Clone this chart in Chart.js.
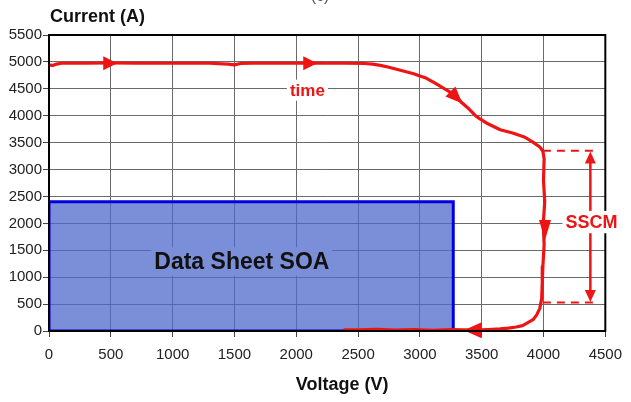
<!DOCTYPE html>
<html><head><meta charset="utf-8">
<script src="https://cdn.jsdelivr.net/npm/chart.js@4.4.0/dist/chart.umd.min.js"></script>
<style>html,body{margin:0;padding:0;background:#fff;}#wrap{width:631px;height:402px;position:relative;}</style>
</head><body><div id="wrap"><canvas id="c" width="631" height="402"></canvas></div>
<script>
// ---- data ----
const xTitle = 'Voltage (V)';
const yTitle = 'Current (A)';
const xMin = 0, xMax = 4500, xStep = 500;
const yMin = 0, yMax = 5500, yStep = 500;

// measured switching trajectory (V, A)
const curveV = [0,30,60,100,200,300,500,700,900,1100,1300,1450,1500,1550,1650,1800,2000,2200,2400,2550,2620,2680,2750,2850,2950,3000,3050,3120,3200,3280,3340,3400,3450,3480,3550,3650,3750,3850,3920,3970,3995,4005,4000,4010,3998,4005,3995,3990,3985,3970,3945,3915,3870,3830,3780,3715,3650,3550,3450,3350,3250,3100,2950,2800,2650,2500,2390];
const curveI = [4940,4935,4960,4975,4975,4975,4980,4975,4975,4975,4975,4960,4945,4970,4975,4975,4975,4975,4975,4970,4960,4935,4900,4840,4780,4740,4700,4610,4500,4390,4240,4120,4000,3950,3850,3740,3680,3600,3500,3420,3340,3200,2800,2400,2000,1600,1200,900,600,420,300,210,150,100,75,55,40,25,15,20,25,10,25,15,30,20,20];

// data sheet SOA rectangle (left edge, top edge, right edge; bottom closed separately)
const soaV = [0,0,3270,3270];
const soaI = [0,2400,2400,0];

// SSCM bracket
const sscmDashV = [3995,4435];
const sscmTopI = 3350;
const sscmBotI = 530;
const sscmArrowV = 4379;

// direction arrows on the curve (tip position, pixel direction in degrees)
const arrowV   = [552, 2170, 3344, 4012, 3355, 4379, 4379];
const arrowI   = [4975, 4975, 4228, 1690, 15, 3335, 540];
const arrowDeg = [0, 0, 45, 90, 180, -90, 90];
const arrowLen = [14, 14, 17, 20, 18, 12, 12];
const arrowHalf= [7, 7, 7, 6, 8, 5.5, 5.5];

// text labels in data coords
const noteText = ['time', 'Data Sheet SOA', 'SSCM'];
const noteV = [2090, 1560, 4388];
const noteI = [4475, 1290, 2024];

const RED = '#EE1414';
const BLUE = '#0000DD';
const FONT = '"Liberation Sans", Arial, Helvetica, sans-serif';
Chart.defaults.font.family = FONT;

const pts = (xs, ys) => xs.map((v, k) => ({x: v, y: ys[k]}));

const annot = {
  id: 'annot',
  afterDatasetsDraw(chart) {
    const {ctx, chartArea: a, scales: {x, y}} = chart;
    ctx.save();
    // arrows
    ctx.fillStyle = RED;
    for (let k = 0; k < arrowV.length; k++) {
      const px = x.getPixelForValue(arrowV[k]);
      const py = y.getPixelForValue(arrowI[k]);
      const ang = arrowDeg[k] * Math.PI / 180;
      const c = Math.cos(ang), s = Math.sin(ang);
      const bx = px - arrowLen[k] * c, by = py - arrowLen[k] * s;
      const h = arrowHalf[k];
      ctx.beginPath();
      ctx.moveTo(px, py);
      ctx.lineTo(bx - h * s, by + h * c);
      ctx.lineTo(bx + h * s, by - h * c);
      ctx.closePath();
      ctx.fill();
    }
    // frame
    ctx.strokeStyle = '#000';
    ctx.lineWidth = 2;
    ctx.strokeRect(a.left, a.top, a.right - a.left, a.bottom - a.top);

    // notes
    const styles = [
      {font: 'bold 17px ' + FONT, color: RED, bg: '#fff'},
      {font: 'bold 23px ' + FONT, color: '#111', bg: '#7B8ED8'},
      {font: 'bold 18px ' + FONT, color: RED, bg: '#fff'}
    ];
    ctx.textAlign = 'center';
    ctx.textBaseline = 'middle';
    for (let k = 0; k < noteText.length; k++) {
      const st = styles[k];
      const px = x.getPixelForValue(noteV[k]);
      const py = y.getPixelForValue(noteI[k]);
      ctx.font = st.font;
      const w = ctx.measureText(noteText[k]).width;
      const hgt = parseInt(st.font.match(/(\d+)px/)[1]);
      ctx.fillStyle = st.bg;
      ctx.fillRect(px - w / 2 - 3, py - hgt * 0.62, w + 6, hgt * 1.24);
      ctx.fillStyle = st.color;
      ctx.fillText(noteText[k], px, py + 1);
    }
    // axis titles
    ctx.fillStyle = '#111';
    ctx.font = 'bold 18px ' + FONT;
    ctx.textAlign = 'left';
    ctx.fillText(yTitle, a.left + 1, 17);
    ctx.textAlign = 'center';
    ctx.fillText(xTitle, (a.left + a.right) / 2 + 15, 385);
    // cut-off caption at top
    ctx.fillStyle = '#555';
    ctx.font = '16px ' + FONT;
    ctx.textBaseline = 'alphabetic';
    ctx.fillText('(c)', 320, 1);
    ctx.restore();
  }
};

new Chart(document.getElementById('c'), {
  type: 'scatter',
  data: {
    datasets: [
      {
        data: pts(curveV, curveI), showLine: true, borderColor: RED, borderWidth: 3.2,
        pointRadius: 0, tension: 0, borderJoinStyle: 'round', borderCapStyle: 'round', order: 0
      },
      {
        data: pts(sscmDashV, [sscmTopI, sscmTopI]), showLine: true, borderColor: RED, borderWidth: 2,
        borderDash: [8, 6], pointRadius: 0, order: 1
      },
      {
        data: pts(sscmDashV, [sscmBotI, sscmBotI]), showLine: true, borderColor: RED, borderWidth: 2,
        borderDash: [8, 6], pointRadius: 0, order: 1
      },
      {
        data: pts([sscmArrowV, sscmArrowV], [sscmTopI - 150, sscmBotI + 150]), showLine: true,
        borderColor: RED, borderWidth: 2.5, pointRadius: 0, order: 1
      },
      {
        type: 'line',
        data: pts([soaV[0], soaV[3]], [soaI[0], soaI[3]]), borderColor: BLUE, borderWidth: 3,
        fill: false, pointRadius: 0, order: 2
      },
      {
        type: 'line',
        data: pts(soaV, soaI), borderColor: BLUE, borderWidth: 3,
        backgroundColor: 'rgba(79,104,203,0.75)', fill: 'origin', pointRadius: 0, tension: 0, order: 3
      }
    ]
  },
  options: {
    responsive: false,
    animation: false,
    devicePixelRatio: 1,
    layout: {padding: {left: 0, right: 20, top: 35, bottom: 0}},
    plugins: {legend: {display: false}, tooltip: {enabled: false}},
    scales: {
      x: {
        type: 'linear', min: xMin, max: xMax,
        ticks: {stepSize: xStep, font: {size: 15}, color: '#222', padding: 9, maxRotation: 0, callback: v => String(v)},
        grid: {color: '#6a6a6a', lineWidth: 1, tickLength: 6, tickColor: '#444'},
        border: {display: false},
        afterFit: s => { s.height = 71; }
      },
      y: {
        type: 'linear', min: yMin, max: yMax,
        ticks: {stepSize: yStep, font: {size: 15}, color: '#222', padding: 1, callback: v => String(v)},
        grid: {color: '#6a6a6a', lineWidth: 1, tickLength: 6, tickColor: '#444'},
        border: {display: false},
        afterFit: s => { s.width = 49; }
      }
    }
  },
  plugins: [annot]
});
</script>
</body></html>
